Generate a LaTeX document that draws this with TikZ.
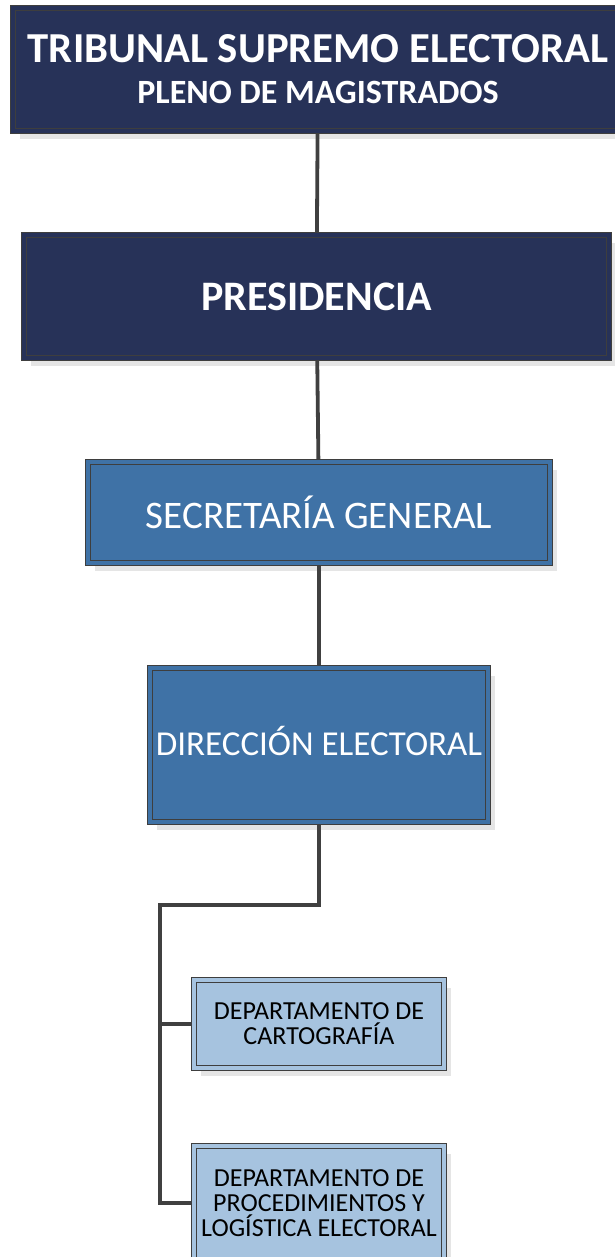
\documentclass[tikz,border=0pt]{standalone}
\usepackage{fontspec}
\setmainfont{Carlito}
\usepackage{xcolor}
\usepackage{tikz}
\usetikzlibrary{positioning,shadows}

\definecolor{tseNavy}{RGB}{39,50,88}
\definecolor{tseBlue}{RGB}{63,114,166}
\definecolor{tseLight}{RGB}{166,195,223}
\definecolor{tseEdge}{RGB}{62,62,62}
\definecolor{tseLine}{RGB}{64,64,64}

\tikzset{
  orgbox/.style={rectangle, draw=tseEdge, line width=0.8pt, double distance=4pt,
    inner sep=0pt, outer sep=2.8pt, align=center,
    drop shadow={shadow xshift=7pt, shadow yshift=-8pt, fill=black!10, opacity=1}},
  topbox/.style={orgbox, fill=tseNavy, double=tseNavy, text=white},
  midbox/.style={orgbox, fill=tseBlue, double=tseBlue, text=white},
  depbox/.style={orgbox, fill=tseLight, double=tseLight, text=black,
    font=\fontsize{26}{25}\selectfont},
  link/.style={draw=tseLine, line width=3.8pt}
}

\begin{document}
\begin{tikzpicture}[x=1pt, y=-1pt]
  \useasboundingbox (0,0) rectangle (615,1257);

  \node[topbox, minimum width=610pt, minimum height=123.4pt,
    font=\bfseries\fontsize{34}{41}\selectfont] (tse) at (318,69.5)
    {{\fontsize{42.7}{41}\selectfont TRIBUNAL SUPREMO ELECTORAL}\\
     PLENO DE MAGISTRADOS};
  \node[topbox, minimum width=585.4pt, minimum height=123.4pt,
    font=\bfseries\fontsize{42}{42}\selectfont] (pres) at (316.5,296.5)
    {PRESIDENCIA};
  \node[midbox, minimum width=462.4pt, minimum height=101.4pt,
    font=\fontsize{39}{39}\selectfont] (sec) at (319,512.5)
    {SECRETARÍA GENERAL};
  \node[midbox, minimum width=338.4pt, minimum height=154.4pt,
    font=\fontsize{35}{35}\selectfont] (dir) at (319,745)
    {\raisebox{9pt}{DIRECCIÓN ELECTORAL}};
  \node[depbox, minimum width=250.4pt, minimum height=88.4pt] (cart) at (319,1024)
    {DEPARTAMENTO DE\\CARTOGRAFÍA};
  \node[depbox, minimum width=250.4pt, minimum height=114.4pt] (proc) at (319,1203)
    {DEPARTAMENTO DE\\PROCEDIMIENTOS Y\\LOGÍSTICA ELECTORAL};

  % connectors
  \coordinate (trunk) at (160,905);
  \draw[link] (tse) -- (pres);
  \draw[link] (pres) -- (sec);
  \draw[link] (sec) -- (dir);
  \draw[link] (dir) -- (dir |- trunk) -- (trunk) |- (proc.west);
  \draw[link] (trunk |- cart) -- (cart.west);
\end{tikzpicture}
\end{document}
